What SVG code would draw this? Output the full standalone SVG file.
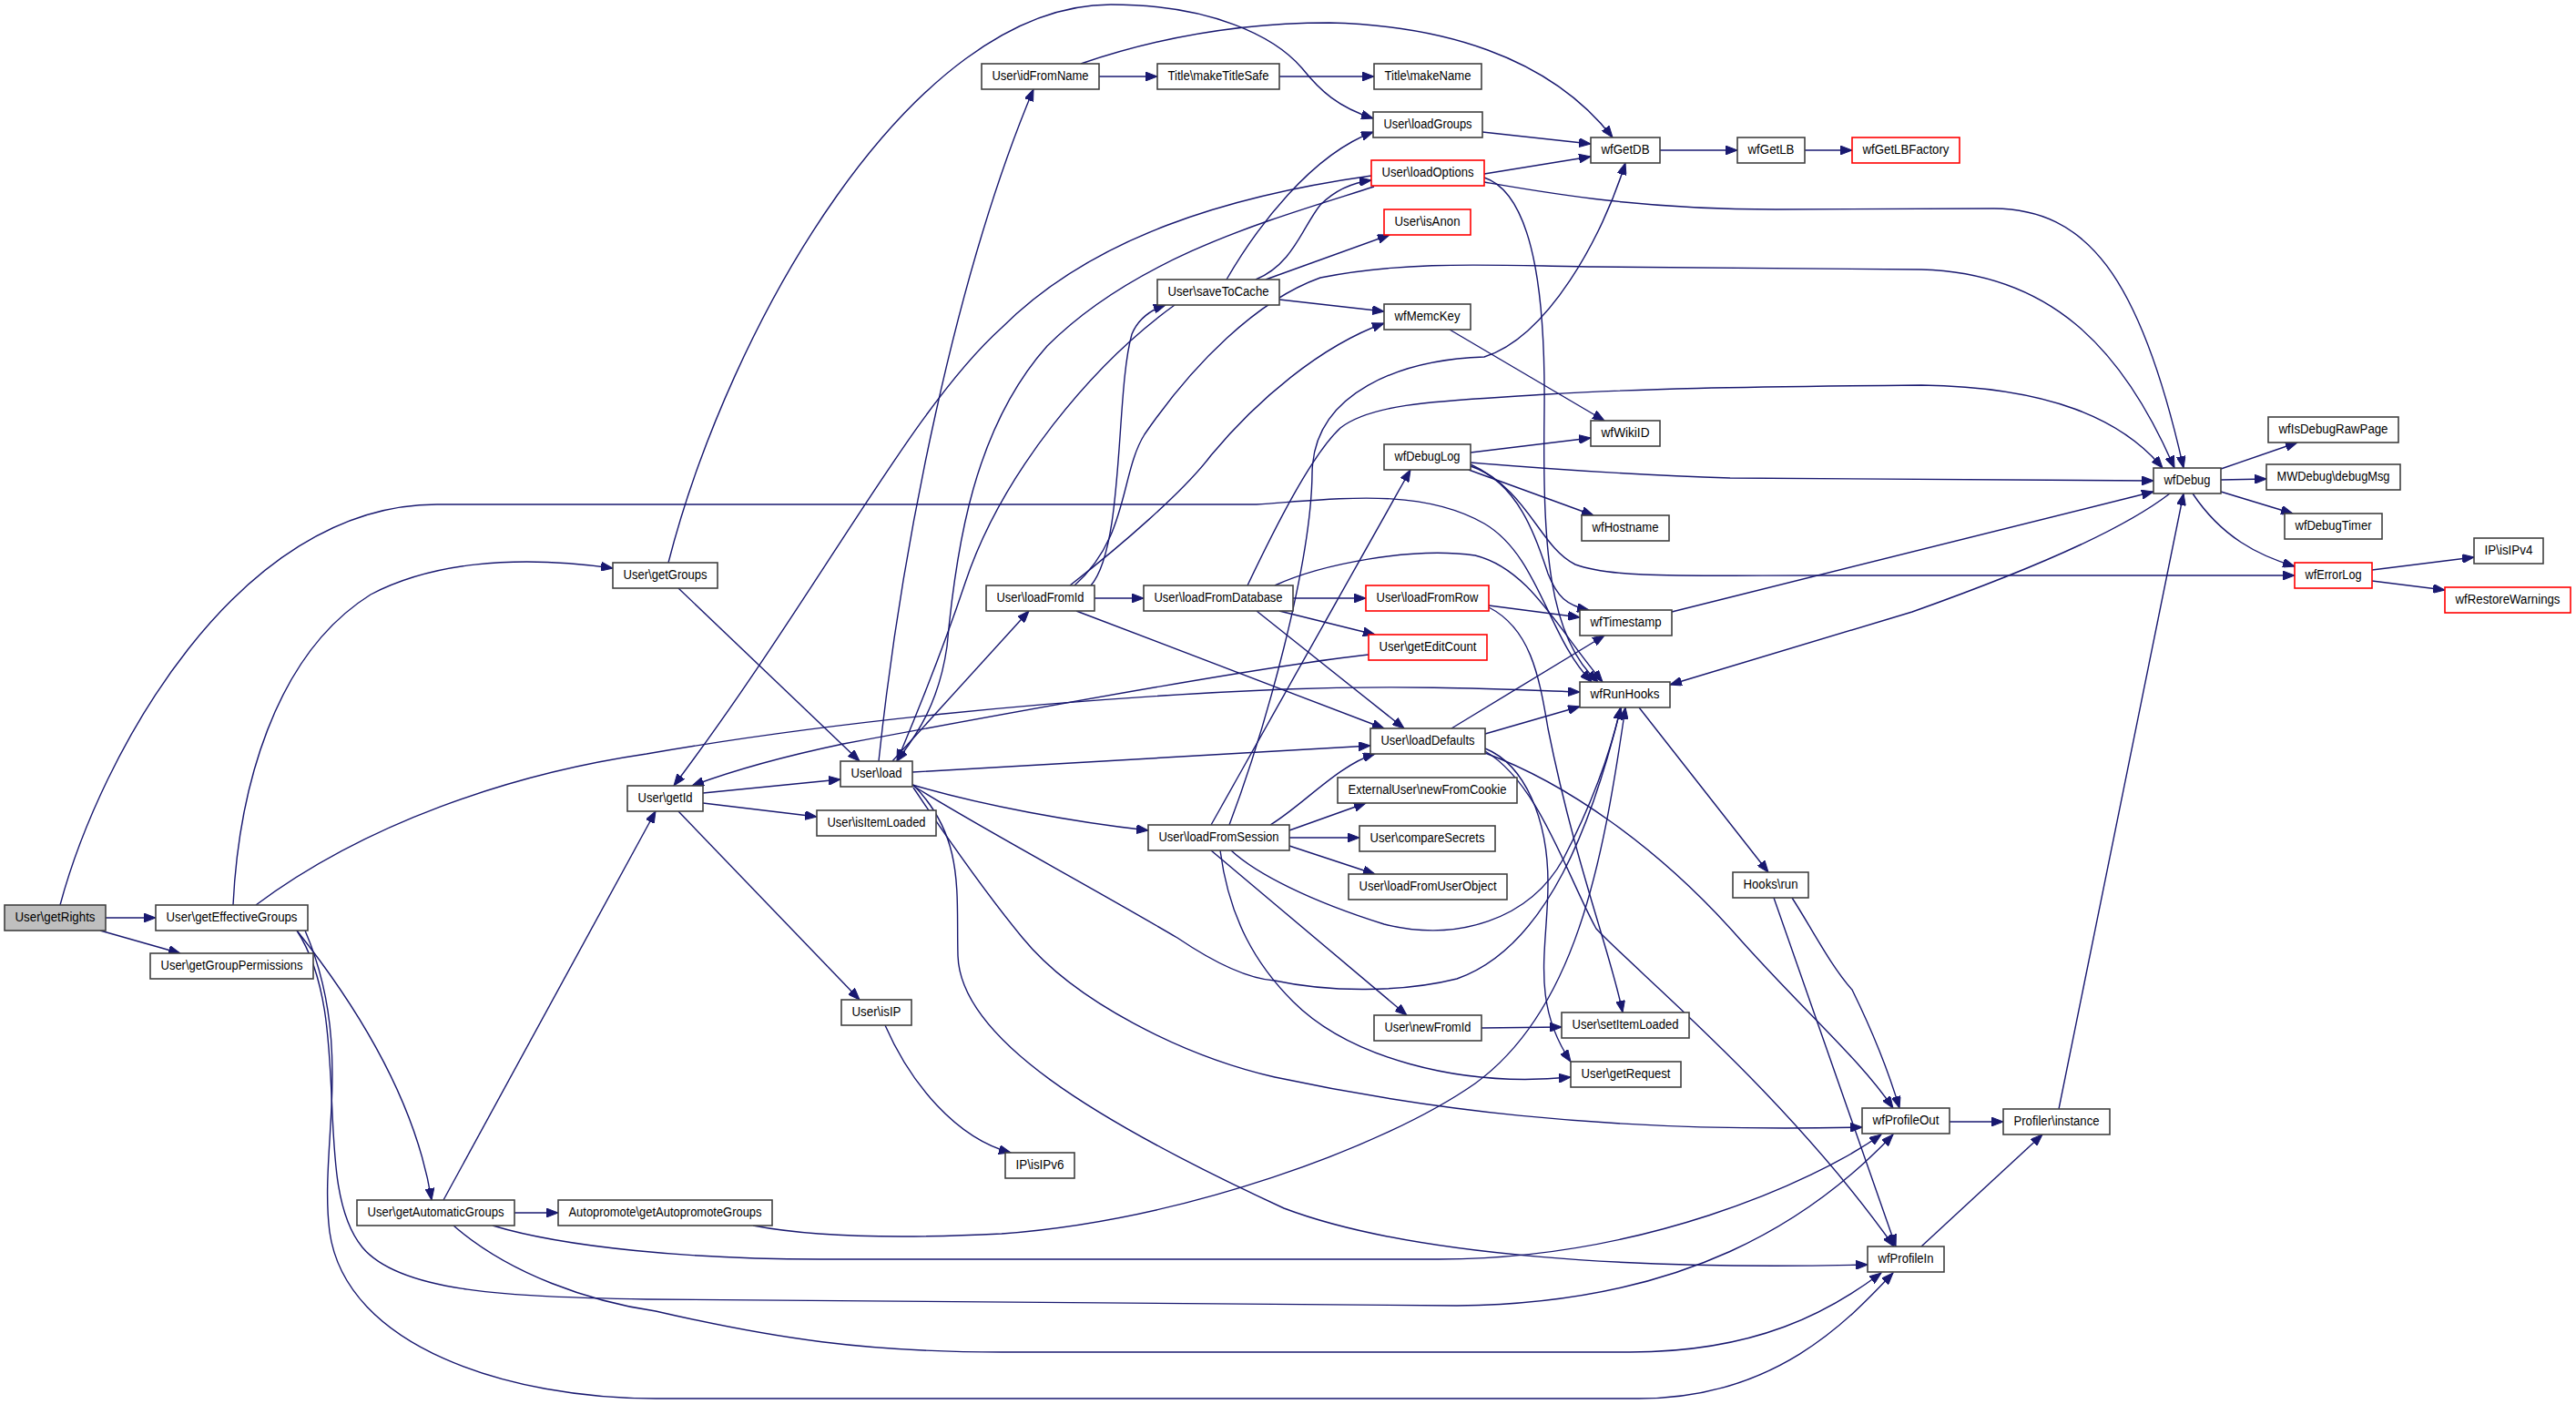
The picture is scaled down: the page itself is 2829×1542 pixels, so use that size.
<svg xmlns="http://www.w3.org/2000/svg" width="2829" height="1542" viewBox="0 0 2829 1542">
<style>
.n rect{fill:#fff;stroke:#404040;stroke-width:1.6}
.n.r rect{stroke:#ff0000}
.n.g rect{fill:#bfbfbf}
.n text{font-family:"Liberation Sans",Arial,sans-serif;font-size:14px;text-anchor:middle;fill:#000}
.e path{fill:none;stroke:#191970;stroke-width:1.4;marker-end:url(#a)}
</style>
<defs>
<marker id="a" markerUnits="userSpaceOnUse" markerWidth="14" markerHeight="10" refX="13" refY="5" orient="auto">
<path d="M0,0 L13,5 L0,10 Z" fill="#191970" stroke="#191970" stroke-width="1"/>
</marker>
</defs>
<rect width="2829" height="1542" fill="#fff"/>
<g id="edges" class="e">
<path d="M116,1008 L171,1008"/>
<path d="M110,1022 L198,1047"/>
<path d="M66,994 C110,830 260,554 480,554 L1380,554 C1470,548 1560,535 1630,575 C1690,610 1700,700 1748,749"/>
<path d="M256,994 C262,870 300,720 407,653 C470,620 560,608 673,624"/>
<path d="M281,994 C400,905 560,850 710,828 C900,795 1150,768 1410,757 C1550,752 1650,757 1735,760"/>
<path d="M326,1022 C380,1090 455,1200 474,1318"/>
<path d="M326,1022 C390,1120 340,1300 398,1370 C440,1420 560,1424 710,1427 L1600,1434 C1850,1432 1990,1340 2079,1246"/>
<path d="M335,1022 C390,1150 350,1260 362,1353 C380,1480 560,1536 720,1536 L1800,1536 C1950,1536 2030,1450 2079,1398"/>
<path d="M734,618 C800,360 1000,5 1220,5 C1330,5 1400,40 1430,75 C1450,100 1470,118 1508,130"/>
<path d="M745,646 L944,836"/>
<path d="M487,1318 L720,891"/>
<path d="M565,1332 L613,1332"/>
<path d="M541,1346 C620,1370 760,1383 900,1383 L1580,1383 C1800,1383 1990,1300 2066,1246"/>
<path d="M498,1346 C560,1400 650,1430 720,1440 C850,1470 950,1485 1100,1485 L1790,1485 C1930,1485 2010,1440 2066,1398"/>
<path d="M827,1346 C900,1360 1000,1360 1100,1355 C1300,1340 1520,1260 1620,1190 C1730,1110 1760,950 1785,777"/>
<path d="M772,871 L923,856"/>
<path d="M772,882 L897,897"/>
<path d="M745,891 L944,1098"/>
<path d="M972,1126 C1000,1190 1050,1250 1110,1266"/>
<path d="M965,836 C990,600 1050,300 1135,98"/>
<path d="M980,836 L1130,671"/>
<path d="M1002,848 L1505,819"/>
<path d="M1002,862 C1080,885 1180,903 1261,912"/>
<path d="M1003,863 C1060,900 1200,975 1293,1030 C1330,1055 1370,1075 1400,1077 C1460,1090 1540,1090 1600,1075 C1700,1040 1750,900 1780,777"/>
<path d="M1003,865 C1040,920 1090,990 1123,1030 C1180,1100 1300,1160 1400,1183 C1550,1215 1750,1245 2045,1238"/>
<path d="M1003,862 C1060,920 1050,980 1052,1050 C1055,1140 1200,1230 1410,1327 C1550,1380 1800,1395 2051,1389"/>
<path d="M1202,657 L1256,657"/>
<path d="M1182,671 L1520,800"/>
<path d="M1198,643 C1235,600 1225,430 1243,367 C1250,350 1265,340 1280,335"/>
<path d="M1175,643 C1230,600 1300,540 1330,500 C1380,440 1450,380 1520,355"/>
<path d="M1180,643 C1240,590 1230,520 1257,477 C1310,400 1380,330 1450,305 C1550,285 1650,292 1750,293 L2110,296 C2250,300 2330,380 2388,514"/>
<path d="M1347,307 C1380,250 1440,170 1508,145"/>
<path d="M1379,307 C1420,290 1430,250 1450,225 C1470,205 1490,200 1506,198"/>
<path d="M1390,307 L1526,258"/>
<path d="M1405,329 L1520,342"/>
<path d="M1290,335 C1200,400 1100,520 1060,640 C1030,730 1000,800 985,836"/>
<path d="M1509,205 C1400,240 1250,280 1150,380 C1070,470 1050,600 1040,710 C1030,780 1000,815 985,836"/>
<path d="M1506,193 C1350,215 1200,260 1100,360 C1000,450 900,650 740,863"/>
<path d="M1630,191 L1747,172"/>
<path d="M1630,200 C1700,212 1800,230 1950,230 L2190,229 C2290,230 2350,300 2398,514"/>
<path d="M1630,195 C1690,215 1697,350 1696,450 C1694,600 1700,700 1755,749"/>
<path d="M1628,145 L1747,158"/>
<path d="M1207,84 L1271,84"/>
<path d="M1405,84 L1509,84"/>
<path d="M1187,70 C1260,45 1350,25 1460,25 C1580,28 1700,60 1771,151"/>
<path d="M1823,165 L1908,165"/>
<path d="M1982,165 L2034,165"/>
<path d="M1592,362 L1762,462"/>
<path d="M1615,497 L1747,481"/>
<path d="M1615,508 C1700,515 1800,522 1900,525 L2365,528"/>
<path d="M1613,516 L1750,566"/>
<path d="M1615,512 C1670,530 1690,600 1700,630 C1710,655 1720,665 1745,670"/>
<path d="M1615,510 C1680,540 1690,600 1730,620 C1770,635 1850,632 2000,632 L2520,632"/>
<path d="M1420,657 L1500,657"/>
<path d="M1405,671 L1510,697"/>
<path d="M1380,671 L1542,800"/>
<path d="M1400,643 C1450,620 1550,600 1620,610 C1680,625 1710,690 1760,749"/>
<path d="M1370,643 C1400,580 1440,500 1472,470 C1510,440 1600,440 1700,433 C1800,427 1900,425 2110,423 C2250,425 2330,460 2375,514"/>
<path d="M1635,665 L1735,678"/>
<path d="M1635,667 C1680,690 1690,740 1700,800 C1730,950 1770,1050 1782,1112"/>
<path d="M1503,719 C1400,730 1150,775 926,817 C850,833 800,848 760,863"/>
<path d="M1594,800 L1762,698"/>
<path d="M1631,806 L1735,776"/>
<path d="M1631,822 C1675,840 1700,900 1700,970 C1700,1040 1680,1100 1725,1166"/>
<path d="M1631,825 C1690,860 1720,960 1753,1020 C1800,1070 1960,1200 2080,1369"/>
<path d="M1631,827 C1720,860 1820,930 1905,1025 C1980,1110 2040,1160 2079,1217"/>
<path d="M1395,906 C1430,885 1470,840 1510,828"/>
<path d="M1416,912 L1500,882"/>
<path d="M1416,920 L1493,920"/>
<path d="M1416,929 L1510,960"/>
<path d="M1352,934 C1380,960 1440,990 1520,1015 C1600,1035 1680,1010 1717,943 C1750,880 1770,820 1780,777"/>
<path d="M1330,934 L1545,1115"/>
<path d="M1340,934 C1350,1010 1380,1060 1420,1100 C1480,1160 1600,1195 1725,1183"/>
<path d="M1330,906 L1549,516"/>
<path d="M1350,906 C1390,800 1440,620 1441,520 C1442,430 1540,395 1630,392 C1700,370 1760,260 1785,179"/>
<path d="M1627,1129 L1715,1128"/>
<path d="M1836,672 L2365,540"/>
<path d="M1800,777 L1942,958"/>
<path d="M1968,986 C1990,1020 2010,1060 2034,1087 C2060,1140 2075,1180 2086,1217"/>
<path d="M1948,986 L2082,1369"/>
<path d="M2383,542 C2340,575 2260,615 2100,672 L1834,752"/>
<path d="M2439,515 L2523,486"/>
<path d="M2439,527 L2489,526"/>
<path d="M2439,540 L2518,564"/>
<path d="M2408,542 C2440,590 2480,610 2520,622"/>
<path d="M2605,626 L2717,612"/>
<path d="M2605,638 L2685,648"/>
<path d="M2141,1232 L2200,1232"/>
<path d="M2110,1369 L2243,1246"/>
<path d="M2261,1218 L2398,542"/>
</g>
<g id="n_getRights" class="n g"><rect x="5" y="994" width="111" height="28"/><text x="60.5" y="1012" textLength="88" lengthAdjust="spacingAndGlyphs">User\getRights</text></g>
<g id="n_getEffectiveGroups" class="n"><rect x="171" y="994" width="167" height="28"/><text x="254.5" y="1012" textLength="144" lengthAdjust="spacingAndGlyphs">User\getEffectiveGroups</text></g>
<g id="n_getGroupPermissions" class="n"><rect x="165" y="1047" width="179" height="28"/><text x="254.5" y="1065" textLength="156" lengthAdjust="spacingAndGlyphs">User\getGroupPermissions</text></g>
<g id="n_getGroups" class="n"><rect x="673" y="618" width="115" height="28"/><text x="730.5" y="636" textLength="92" lengthAdjust="spacingAndGlyphs">User\getGroups</text></g>
<g id="n_getAutomaticGroups" class="n"><rect x="392" y="1318" width="173" height="28"/><text x="478.5" y="1336" textLength="150" lengthAdjust="spacingAndGlyphs">User\getAutomaticGroups</text></g>
<g id="n_getAutopromoteGroups" class="n"><rect x="613" y="1318" width="235" height="28"/><text x="730.5" y="1336" textLength="212" lengthAdjust="spacingAndGlyphs">Autopromote\getAutopromoteGroups</text></g>
<g id="n_getId" class="n"><rect x="689" y="863" width="83" height="28"/><text x="730.5" y="881" textLength="60" lengthAdjust="spacingAndGlyphs">User\getId</text></g>
<g id="n_load" class="n"><rect x="923" y="836" width="79" height="28"/><text x="962.5" y="854" textLength="56" lengthAdjust="spacingAndGlyphs">User\load</text></g>
<g id="n_isItemLoaded" class="n"><rect x="897" y="890" width="131" height="28"/><text x="962.5" y="908" textLength="108" lengthAdjust="spacingAndGlyphs">User\isItemLoaded</text></g>
<g id="n_isIP" class="n"><rect x="924" y="1098" width="77" height="28"/><text x="962.5" y="1116" textLength="54" lengthAdjust="spacingAndGlyphs">User\isIP</text></g>
<g id="n_isIPv6" class="n"><rect x="1104" y="1266" width="76" height="28"/><text x="1142" y="1284" textLength="53" lengthAdjust="spacingAndGlyphs">IP\isIPv6</text></g>
<g id="n_idFromName" class="n"><rect x="1078" y="70" width="129" height="28"/><text x="1142.5" y="88" textLength="106" lengthAdjust="spacingAndGlyphs">User\idFromName</text></g>
<g id="n_makeTitleSafe" class="n"><rect x="1271" y="70" width="134" height="28"/><text x="1338" y="88" textLength="111" lengthAdjust="spacingAndGlyphs">Title\makeTitleSafe</text></g>
<g id="n_makeName" class="n"><rect x="1509" y="70" width="118" height="28"/><text x="1568" y="88" textLength="95" lengthAdjust="spacingAndGlyphs">Title\makeName</text></g>
<g id="n_saveToCache" class="n"><rect x="1271" y="307" width="134" height="28"/><text x="1338" y="325" textLength="111" lengthAdjust="spacingAndGlyphs">User\saveToCache</text></g>
<g id="n_loadGroups" class="n"><rect x="1508" y="123" width="120" height="28"/><text x="1568" y="141" textLength="97" lengthAdjust="spacingAndGlyphs">User\loadGroups</text></g>
<g id="n_loadOptions" class="n r"><rect x="1506" y="176" width="124" height="28"/><text x="1568" y="194" textLength="101" lengthAdjust="spacingAndGlyphs">User\loadOptions</text></g>
<g id="n_isAnon" class="n r"><rect x="1520" y="230" width="95" height="28"/><text x="1567.5" y="248" textLength="72" lengthAdjust="spacingAndGlyphs">User\isAnon</text></g>
<g id="n_wfMemcKey" class="n"><rect x="1520" y="334" width="95" height="28"/><text x="1567.5" y="352" textLength="72" lengthAdjust="spacingAndGlyphs">wfMemcKey</text></g>
<g id="n_wfGetDB" class="n"><rect x="1747" y="151" width="76" height="28"/><text x="1785" y="169" textLength="53" lengthAdjust="spacingAndGlyphs">wfGetDB</text></g>
<g id="n_wfGetLB" class="n"><rect x="1908" y="151" width="74" height="28"/><text x="1945" y="169" textLength="51" lengthAdjust="spacingAndGlyphs">wfGetLB</text></g>
<g id="n_wfGetLBFactory" class="n r"><rect x="2034" y="151" width="118" height="28"/><text x="2093" y="169" textLength="95" lengthAdjust="spacingAndGlyphs">wfGetLBFactory</text></g>
<g id="n_wfWikiID" class="n"><rect x="1747" y="462" width="76" height="28"/><text x="1785" y="480" textLength="53" lengthAdjust="spacingAndGlyphs">wfWikiID</text></g>
<g id="n_wfDebugLog" class="n"><rect x="1520" y="488" width="95" height="28"/><text x="1567.5" y="506" textLength="72" lengthAdjust="spacingAndGlyphs">wfDebugLog</text></g>
<g id="n_loadFromId" class="n"><rect x="1083" y="643" width="119" height="28"/><text x="1142.5" y="661" textLength="96" lengthAdjust="spacingAndGlyphs">User\loadFromId</text></g>
<g id="n_loadFromDatabase" class="n"><rect x="1256" y="643" width="164" height="28"/><text x="1338" y="661" textLength="141" lengthAdjust="spacingAndGlyphs">User\loadFromDatabase</text></g>
<g id="n_loadFromRow" class="n r"><rect x="1500" y="643" width="135" height="28"/><text x="1567.5" y="661" textLength="112" lengthAdjust="spacingAndGlyphs">User\loadFromRow</text></g>
<g id="n_getEditCount" class="n r"><rect x="1503" y="697" width="130" height="28"/><text x="1568" y="715" textLength="107" lengthAdjust="spacingAndGlyphs">User\getEditCount</text></g>
<g id="n_wfHostname" class="n"><rect x="1737" y="566" width="96" height="28"/><text x="1785" y="584" textLength="73" lengthAdjust="spacingAndGlyphs">wfHostname</text></g>
<g id="n_wfTimestamp" class="n"><rect x="1735" y="670" width="101" height="28"/><text x="1785.5" y="688" textLength="78" lengthAdjust="spacingAndGlyphs">wfTimestamp</text></g>
<g id="n_wfRunHooks" class="n"><rect x="1735" y="749" width="99" height="28"/><text x="1784.5" y="767" textLength="76" lengthAdjust="spacingAndGlyphs">wfRunHooks</text></g>
<g id="n_loadDefaults" class="n"><rect x="1505" y="800" width="126" height="28"/><text x="1568" y="818" textLength="103" lengthAdjust="spacingAndGlyphs">User\loadDefaults</text></g>
<g id="n_newFromCookie" class="n"><rect x="1469" y="854" width="197" height="28"/><text x="1567.5" y="872" textLength="174" lengthAdjust="spacingAndGlyphs">ExternalUser\newFromCookie</text></g>
<g id="n_loadFromSession" class="n"><rect x="1261" y="906" width="155" height="28"/><text x="1338.5" y="924" textLength="132" lengthAdjust="spacingAndGlyphs">User\loadFromSession</text></g>
<g id="n_compareSecrets" class="n"><rect x="1493" y="907" width="149" height="28"/><text x="1567.5" y="925" textLength="126" lengthAdjust="spacingAndGlyphs">User\compareSecrets</text></g>
<g id="n_loadFromUserObject" class="n"><rect x="1481" y="960" width="174" height="28"/><text x="1568" y="978" textLength="151" lengthAdjust="spacingAndGlyphs">User\loadFromUserObject</text></g>
<g id="n_hooksRun" class="n"><rect x="1903" y="958" width="83" height="28"/><text x="1944.5" y="976" textLength="60" lengthAdjust="spacingAndGlyphs">Hooks\run</text></g>
<g id="n_newFromId" class="n"><rect x="1509" y="1115" width="118" height="28"/><text x="1568" y="1133" textLength="95" lengthAdjust="spacingAndGlyphs">User\newFromId</text></g>
<g id="n_setItemLoaded" class="n"><rect x="1715" y="1112" width="140" height="28"/><text x="1785" y="1130" textLength="117" lengthAdjust="spacingAndGlyphs">User\setItemLoaded</text></g>
<g id="n_getRequest" class="n"><rect x="1725" y="1166" width="121" height="28"/><text x="1785.5" y="1184" textLength="98" lengthAdjust="spacingAndGlyphs">User\getRequest</text></g>
<g id="n_wfProfileOut" class="n"><rect x="2045" y="1217" width="96" height="28"/><text x="2093" y="1235" textLength="73" lengthAdjust="spacingAndGlyphs">wfProfileOut</text></g>
<g id="n_wfProfileIn" class="n"><rect x="2051" y="1369" width="84" height="28"/><text x="2093" y="1387" textLength="61" lengthAdjust="spacingAndGlyphs">wfProfileIn</text></g>
<g id="n_profilerInstance" class="n"><rect x="2200" y="1218" width="117" height="28"/><text x="2258.5" y="1236" textLength="94" lengthAdjust="spacingAndGlyphs">Profiler\instance</text></g>
<g id="n_wfDebug" class="n"><rect x="2365" y="514" width="74" height="28"/><text x="2402" y="532" textLength="51" lengthAdjust="spacingAndGlyphs">wfDebug</text></g>
<g id="n_wfIsDebugRawPage" class="n"><rect x="2491" y="458" width="143" height="28"/><text x="2562.5" y="476" textLength="120" lengthAdjust="spacingAndGlyphs">wfIsDebugRawPage</text></g>
<g id="n_debugMsg" class="n"><rect x="2489" y="510" width="147" height="28"/><text x="2562.5" y="528" textLength="124" lengthAdjust="spacingAndGlyphs">MWDebug\debugMsg</text></g>
<g id="n_wfDebugTimer" class="n"><rect x="2509" y="564" width="107" height="28"/><text x="2562.5" y="582" textLength="84" lengthAdjust="spacingAndGlyphs">wfDebugTimer</text></g>
<g id="n_wfErrorLog" class="n r"><rect x="2520" y="618" width="85" height="28"/><text x="2562.5" y="636" textLength="62" lengthAdjust="spacingAndGlyphs">wfErrorLog</text></g>
<g id="n_isIPv4" class="n"><rect x="2717" y="591" width="76" height="28"/><text x="2755" y="609" textLength="53" lengthAdjust="spacingAndGlyphs">IP\isIPv4</text></g>
<g id="n_wfRestoreWarnings" class="n r"><rect x="2685" y="645" width="138" height="28"/><text x="2754" y="663" textLength="115" lengthAdjust="spacingAndGlyphs">wfRestoreWarnings</text></g>
</svg>
